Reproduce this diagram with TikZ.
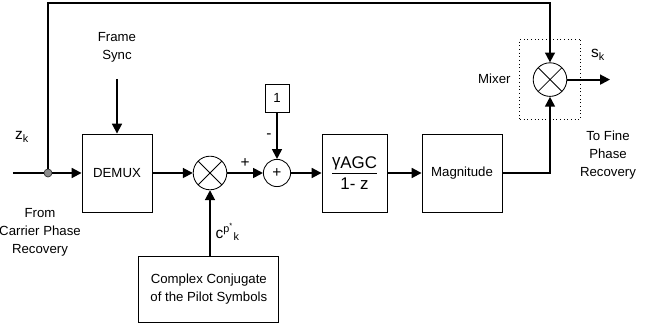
\documentclass[tikz,border=0pt]{standalone}
\usepackage{amsmath}
\usepackage{fontspec}
\setmainfont{Liberation Sans}
\usetikzlibrary{arrows.meta,positioning}

\begin{document}
\begin{tikzpicture}[
  font=\fontsize{9.4}{12.8}\selectfont,
  >={Triangle[length=7pt,width=7pt]},
  block/.style={draw,line width=.6pt,minimum width=1.75cm,minimum height=1.95cm,align=center},
  mult/.style={draw,circle,line width=.6pt,minimum size=.84cm,inner sep=0pt,
    path picture={\draw[line width=.6pt] (path picture bounding box.south west) -- (path picture bounding box.north east)
      (path picture bounding box.north west) -- (path picture bounding box.south east);}},
  adder/.style={draw,circle,line width=.6pt,minimum size=.68cm,inner sep=0pt},
  line/.style={->,line width=1.3pt},
  wire/.style={line width=1.3pt},
  note/.style={align=center},
  big/.style={font=\fontsize{11}{13}\selectfont}
]
\useasboundingbox (0,0) rectangle (16.45,8.15);

% Input tap and demultiplexer.
\coordinate (in) at (0.325,3.825);
\node[circle,draw=black!80,fill=black!45,line width=.5pt,inner sep=0pt,minimum size=.2cm] (tap) at (1.2,3.825) {};
\node[big] at (0.55,4.725) (zk) {z\textsubscript{k}};
\node[note] (from) at (1.0,2.35) {From\\Carrier Phase\\Recovery};
\node[block] (demux) at (2.925,3.825) {DEMUX};
\node[note] (sync) at (2.925,6.975) {Frame\\Sync};
\draw[wire] (in) -- (tap);
\draw[line] (tap) -- (demux);
\draw[line,shorten <=.3cm] (sync) -- (demux);

% Pilot removal and AGC loop filter.
\node[mult] (m1) at (5.25,3.825) {};
\node[block,minimum width=3.5cm,minimum height=1.65cm] (conj) at (5.22,0.925) {Complex Conjugate\\of the Pilot Symbols};
\node[adder,big] (sum) at (6.925,3.825) {+};
\node[draw,line width=.6pt,minimum width=.6cm,minimum height=.7cm] (one) at (6.925,5.7) {1};
\node[block,minimum width=1.625cm,font=\fontsize{12}{14}\selectfont] (agc) at (8.8625,3.825)
  {$\displaystyle\frac{\text{γ\raisebox{-.3ex}{AGC}}}{\text{1- z}}$};
\node[block,minimum width=2cm] (mag) at (11.55,3.825) {Magnitude};
\draw[line] (demux) -- (m1);
\draw[line] (m1 |- conj.north) -- node[right,pos=.36,big] {c\textsuperscript{p\textsuperscript{*}}\textsubscript{k}} (m1.south);
\draw[line] (m1) -- node[above,big] {+} (sum);
\draw[line] (one) -- node[left,big] {-} (sum);
\draw[line] (sum) -- (agc);
\draw[line] (agc) -- (mag);

% Mixer with the gain applied to the tapped input.
\node[draw,dotted,line width=.6pt,minimum width=1.525cm,minimum height=2cm] (mixbox) at (13.76,6.175) {};
\node[mult] (mixer) at (13.75,6.16) {};
\node[left=.1cm of mixbox] (mixlbl) {Mixer};
\node[big] (sk) at (14.95,6.775) {s\textsubscript{k}};
\node[note] (fine) at (15.2,4.275) {To Fine\\Phase\\Recovery};
\coordinate (top) at (13.75,8.075);
\coordinate (out) at (15.25,6.16);
\draw[line] (tap) |- (top) -- (mixer.north);
\draw[line] (mag.east) -| (mixer.south);
\draw[line] (mixer) -- (out);
\end{tikzpicture}
\end{document}
